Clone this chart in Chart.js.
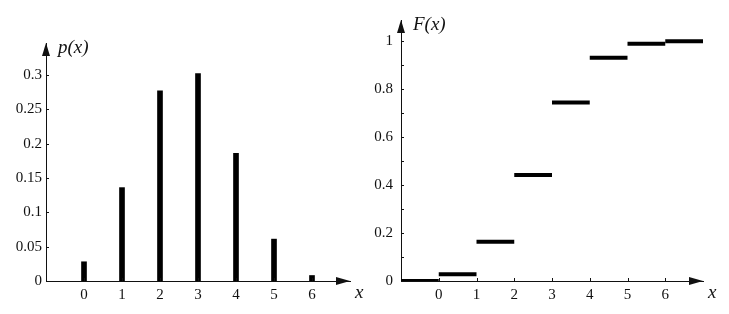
<!DOCTYPE html>
<html><head><meta charset="utf-8">
<script src="https://cdn.jsdelivr.net/npm/chart.js@4/dist/chart.umd.min.js"></script>
<style>
html,body{margin:0;padding:0;background:#fff;width:729px;height:314px;overflow:hidden}
canvas{position:absolute;top:0}
#c1{left:0}
#c2{left:365px}
.pre{position:absolute;left:-999px;font-family:'Liberation Serif';}
</style></head><body>
<span class="pre">0.1 <i>x</i></span>
<canvas id="c1" width="364" height="314"></canvas>
<canvas id="c2" width="364" height="314"></canvas>
<script>
// ---- data ----
const xValues = [0, 1, 2, 3, 4, 5, 6];
const pValues = [0.028, 0.136, 0.277, 0.302, 0.186, 0.061, 0.008];
const cdfEdges = [-1, 0, 1, 2, 3, 4, 5, 6, 7];
const cdfValues = [0, 0.028, 0.164, 0.442, 0.745, 0.931, 0.99, 1];
const xTickLabels = ['0', '1', '2', '3', '4', '5', '6'];
const pTitle = 'p(x)';
const fTitle = 'F(x)';
const xTitle = 'x';

const SERIF = "'Liberation Serif', 'Times New Roman', serif";
const INK = '#111';

function fmt(v){ return String(+v.toFixed(2)); }

function xLabel(v){
  const i = xValues.indexOf(Math.round(v));
  return (i >= 0 && Math.abs(v - Math.round(v)) < 1e-6) ? xTickLabels[i] : '';
}

function makeAxesPlugin(yTitle, yTitleDx){
  return {
    id: 'axesDeco',
    afterDraw(chart){
      const {ctx, chartArea: a, scales: {x, y}} = chart;
      ctx.save();
      ctx.fillStyle = INK; ctx.strokeStyle = INK; ctx.lineWidth = 1;
      y.ticks.forEach(t => {
        const py = Math.round(y.getPixelForValue(t.value)) + 0.5;
        ctx.beginPath(); ctx.moveTo(a.left, py); ctx.lineTo(a.left + 3, py); ctx.stroke();
      });
      xValues.forEach(v => {
        const px = Math.round(x.getPixelForValue(v)) + 0.5;
        ctx.beginPath(); ctx.moveTo(px, a.bottom); ctx.lineTo(px, a.bottom - 3); ctx.stroke();
      });
      ctx.beginPath();
      ctx.moveTo(a.left, a.top);
      ctx.lineTo(a.left - 4, a.top + 13);
      ctx.lineTo(a.left + 4, a.top + 13);
      ctx.closePath(); ctx.fill();
      ctx.beginPath();
      ctx.moveTo(a.right, a.bottom);
      ctx.lineTo(a.right - 14, a.bottom - 4);
      ctx.lineTo(a.right - 14, a.bottom + 4);
      ctx.closePath(); ctx.fill();
      ctx.font = 'italic 19px ' + SERIF;
      ctx.textBaseline = 'middle'; ctx.textAlign = 'left';
      ctx.fillText(yTitle, a.left + yTitleDx, a.top + 5);
      ctx.fillText(xTitle, a.right + 5, a.bottom + 12);
      ctx.restore();
    }
  };
}

function baseScales(yMax, yStep, yWidth, yPad, yCb){
  return {
    x: {
      type: 'linear', min: -1, max: 7, offset: false,
      grid: {display: false, drawTicks: false, offset: false},
      border: {display: true, color: INK, width: 1},
      ticks: {stepSize: 1, includeBounds: false, autoSkip: false, maxRotation: 0,
              color: INK, padding: 5, font: {family: SERIF, size: 15}, callback: xLabel},
      afterFit: s => { s.height = 33; }
    },
    y: {
      min: 0, max: yMax,
      grid: {display: false, drawTicks: false},
      border: {display: true, color: INK, width: 1},
      ticks: {stepSize: yStep, includeBounds: false, autoSkip: false,
              color: INK, padding: yPad, font: {family: SERIF, size: 15}, callback: yCb},
      afterFit: s => { s.width = yWidth; }
    }
  };
}

const common = {
  responsive: false, animation: false,
  plugins: {legend: {display: false}, tooltip: {enabled: false}}
};

function build(){
  new Chart(document.getElementById('c1'), {
    type: 'bar',
    data: {datasets: [{
      data: xValues.map((v, i) => ({x: v, y: pValues[i]})),
      backgroundColor: '#000', barThickness: 5, borderWidth: 0
    }]},
    options: Object.assign({}, common, {
      layout: {padding: {left: 0, right: 14, top: 43, bottom: 0}},
      scales: baseScales(0.3466, 0.05, 46, 4, v => fmt(v))
    }),
    plugins: [makeAxesPlugin(pTitle, 12)]
  });

  new Chart(document.getElementById('c2'), {
    type: 'line',
    data: {datasets: cdfValues.map((v, i) => ({
      data: [{x: cdfEdges[i], y: v}, {x: cdfEdges[i + 1], y: v}],
      borderColor: '#000', borderWidth: 4, pointRadius: 0,
      borderCapStyle: 'butt', fill: false, tension: 0
    }))},
    options: Object.assign({}, common, {
      layout: {padding: {left: 0, right: 26, top: 20, bottom: 0}},
      scales: baseScales(1.089, 0.1, 36, 8, v => (Math.round(v * 10) % 2 === 0 ? fmt(v) : ''))
    }),
    plugins: [makeAxesPlugin(fTitle, 12)]
  });
}

Promise.all([
  document.fonts.load("15px 'Liberation Serif'"),
  document.fonts.load("italic 19px 'Liberation Serif'")
]).then(build, build);
</script>
</body></html>
